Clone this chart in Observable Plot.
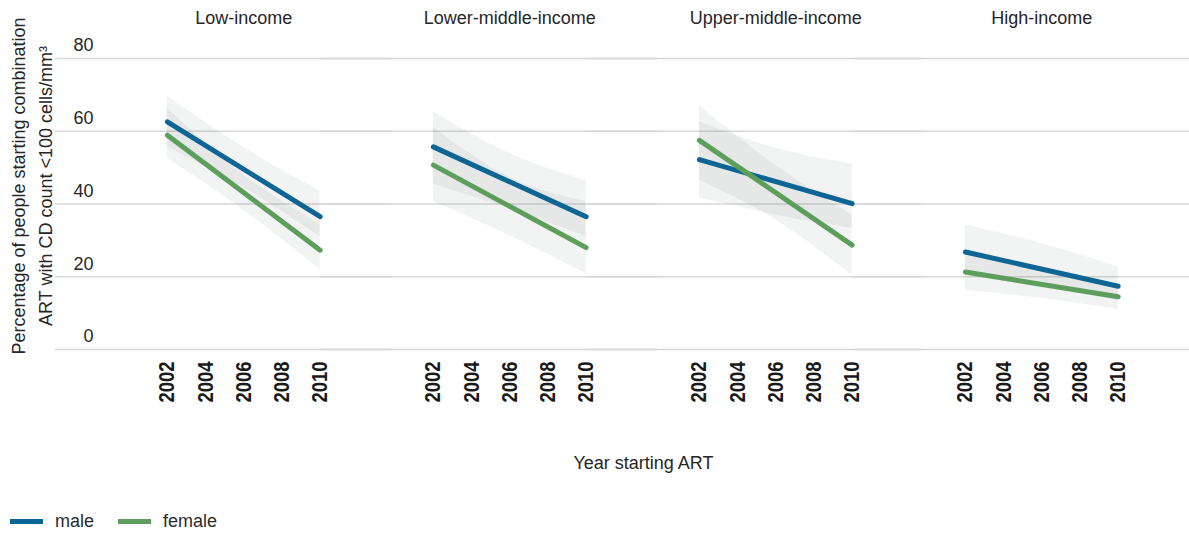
<!DOCTYPE html>
<html><head><meta charset="utf-8">
<script src="https://cdn.jsdelivr.net/npm/d3@7"></script>
<script src="https://cdn.jsdelivr.net/npm/@observablehq/plot@0.6"></script>
<style>
html,body{margin:0;padding:0;background:#fff;overflow:hidden;width:1189px;height:533px;}
#chart svg{display:block;}
.legend{position:relative;height:43px;font-family:'Liberation Sans',Arial,sans-serif;font-size:18px;color:#2b2b2b;}
.legend .item{position:absolute;top:19px;display:flex;align-items:center;height:24px;}
.legend .sw{display:inline-block;width:33px;height:5px;margin-right:12px;}
</style></head><body>
<div id="chart"></div>
<div class="legend" id="legend"></div>
<script>
const panels = ["Low-income", "Lower-middle-income", "Upper-middle-income", "High-income"];
const sexes = ["male", "female"];
const sexColors = ["#0c6594", "#5e9e5d"];
const xTicks = [2002, 2004, 2006, 2008, 2010];
const yTicks = [0, 20, 40, 60, 80];
const xDomain = [1996.14, 2010.07];
const yTitle = "Percentage of people starting combination\nART with CD count <100 cells/mm³";
const xTitle = "Year starting ART";

// fitted lines (value at 2002 and 2010)
const lineYears = [2002, 2010];
const maleLine   = [[62.6, 36.5], [55.7, 36.5], [52.2, 40.1], [26.8, 17.4]];
const femaleLine = [[58.9, 27.3], [50.7, 28.0], [57.5, 28.7], [21.3, 14.5]];

// confidence bands at 2002, 2006, 2010
const bandYears = [2002, 2006, 2010];
const maleLow    = [[55.7, 44.5, 31.0], [45.4, 38.6, 31.0], [41.7, 37.0, 33.3], [20.5, 17.0, 13.5]];
const maleHigh   = [[69.6, 55.5, 43.5], [65.3, 53.9, 46.4], [62.6, 55.3, 50.9], [34.2, 29.1, 22.7]];
const femaleLow  = [[52.5, 38.3, 22.0], [40.6, 31.3, 20.9], [46.5, 35.6, 20.4], [16.3, 14.0, 11.0]];
const femaleHigh = [[66.3, 48.0, 34.4], [61.0, 47.3, 40.6], [67.0, 50.6, 37.0], [26.4, 21.8, 18.0]];

const lineRows = [];
const bandRows = [];
panels.forEach((p, i) => {
  lineYears.forEach((yr, j) => {
    lineRows.push({panel: p, sex: "male", year: yr, value: maleLine[i][j]});
  });
  lineYears.forEach((yr, j) => {
    lineRows.push({panel: p, sex: "female", year: yr, value: femaleLine[i][j]});
  });
  bandYears.forEach((yr, j) => {
    bandRows.push({panel: p, sex: "male", year: yr, low: maleLow[i][j], high: maleHigh[i][j]});
  });
  bandYears.forEach((yr, j) => {
    bandRows.push({panel: p, sex: "female", year: yr, low: femaleLow[i][j], high: femaleHigh[i][j]});
  });
});

const font = "'Liberation Sans', Arial, sans-serif";
const W = 1189;
const facetStep = 266;
const facetStart = 55;
const facetEnd = facetStart + panels.length * facetStep;

const plot = Plot.plot({
  width: W,
  height: 490,
  marginTop: 58,
  marginBottom: 141,
  marginLeft: facetStart,
  marginRight: 0,
  style: {fontFamily: font, fontSize: "18px", color: "#262626", background: "#fff", overflow: "hidden"},
  fx: {domain: panels, range: [facetStart, facetEnd], padding: 0, axis: null},
  x: {domain: xDomain},
  y: {domain: [0, 80]},
  color: {domain: sexes, range: sexColors},
  marks: [
    Plot.ruleY(yTicks, {stroke: "#d7d7d7", strokeWidth: 1.3, insetRight: -(W - facetEnd)}),
    Plot.areaY(bandRows, {fx: "panel", x: "year", y1: "low", y2: "high", z: "sex", fill: "#6b7079", fillOpacity: 0.085, curve: "natural"}),
    Plot.lineY(lineRows, {fx: "panel", x: "year", y: "value", z: "sex", stroke: "sex", strokeWidth: 5}),
    Plot.axisY({ticks: yTicks, anchor: "left", tickSize: 0, tickPadding: 0, dx: 38, dy: -13, textAnchor: "end", label: null, fontSize: 18}),
    Plot.axisX({ticks: xTicks, tickFormat: d => `${d}`, tickRotate: -90, tickSize: 0, tickPadding: 12, label: null,
      fontWeight: "bold", fontSize: 22, fontFamily: font, fill: "#1a1a1a"}),
    Plot.text(panels, {fx: d => d, x: () => d3.mean(lineYears), frameAnchor: "top", dy: -47, text: d => d, fontSize: 18}),
    Plot.text([panels[0]], {fx: d => d, frameAnchor: "left", text: () => yTitle, rotate: -90, textAnchor: "middle", dx: -25.5, dy: -18, lineHeight: 1.5, fontSize: 18}),
    Plot.text([xTitle], {facet: "super", frameAnchor: "bottom", text: d => d, dy: 119, dx: 56, fontSize: 18})
  ]
});
document.getElementById("chart").append(plot);

// condensed look for the rotated year labels
plot.querySelectorAll('g[aria-label="x-axis tick label"] text').forEach(t => {
  t.setAttribute("textLength", 41);
  t.setAttribute("lengthAdjust", "spacingAndGlyphs");
});

const legend = document.getElementById("legend");
const legendX = [10, 118];
sexes.forEach((s, i) => {
  const item = document.createElement("div");
  item.className = "item";
  item.style.left = legendX[i] + "px";
  const sw = document.createElement("span");
  sw.className = "sw";
  sw.style.background = sexColors[i];
  const t = document.createElement("span");
  t.textContent = s;
  item.append(sw, t);
  legend.append(item);
});
</script>
</body></html>
